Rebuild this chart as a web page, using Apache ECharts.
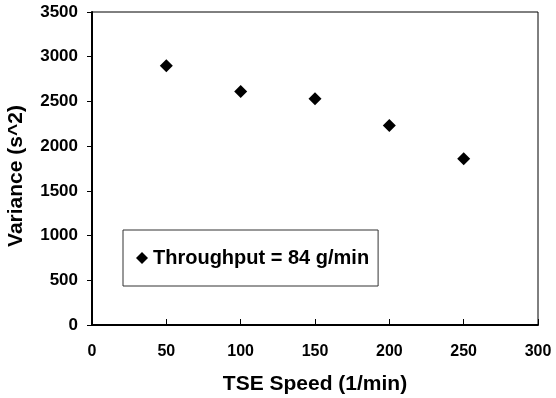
<!DOCTYPE html>
<html>
<head>
<meta charset="utf-8">
<script src="https://cdn.jsdelivr.net/npm/echarts@6/dist/echarts.min.js"></script>
<style>
  html, body { margin: 0; padding: 0; background: #fff; }
  #chart { width: 556px; height: 398px; }
</style>
</head>
<body>
<div id="chart"></div>
<script>
// data
var speeds = [50, 100, 150, 200, 250];
var variances = [2900, 2610, 2530, 2230, 1860];
var seriesName = 'Throughput = 84 g/min';

var points = speeds.map(function (s, i) { return [s, variances[i]]; });

var myChart = echarts.init(document.getElementById('chart'));
var font = 'Liberation Sans, Arial, sans-serif';

var option = {
  animation: false,
  textStyle: { fontFamily: font },
  grid: {
    left: 92, right: 18, top: 12, bottom: 73,
    outerBoundsMode: 'none',
    show: true, borderColor: '#000', borderWidth: 1
  },
  legend: {
    data: [{ name: seriesName, icon: 'diamond' }],
    left: 123, top: 230,
    orient: 'vertical',
    padding: [18, 9, 18, 13],
    itemWidth: 12, itemHeight: 12, itemGap: 0,
    borderColor: '#333', borderWidth: 1,
    backgroundColor: '#fff',
    textStyle: { fontSize: 20, fontWeight: 'bold', color: '#000', fontFamily: font }
  },
  xAxis: {
    type: 'value',
    min: 0, max: 300, interval: 50,
    name: 'TSE Speed (1/min)',
    nameLocation: 'middle', nameGap: 49,
    nameTextStyle: { fontSize: 21, fontWeight: 'bold', color: '#000' },
    axisLine: { show: true, lineStyle: { color: '#000', width: 2 } },
    axisTick: { show: true, inside: true, length: 6, lineStyle: { color: '#000' } },
    axisLabel: { fontSize: 16, fontWeight: 'bold', color: '#000', margin: 19 },
    splitLine: { show: false }
  },
  yAxis: {
    type: 'value',
    min: 0, max: 3500, interval: 500,
    name: 'Variance (s^2)',
    nameLocation: 'middle', nameGap: 65,
    nameTextStyle: { fontSize: 21, fontWeight: 'bold', color: '#000', padding: [0, 15, 0, 0] },
    axisLine: { show: true, lineStyle: { color: '#000', width: 2 } },
    axisTick: { show: true, inside: false, length: 5, lineStyle: { color: '#000' } },
    axisLabel: {
      fontSize: 17, fontWeight: 'bold', color: '#000', margin: 14,
      formatter: function (v) { return String(v); }
    },
    splitLine: { show: false }
  },
  series: [
    {
      name: seriesName,
      type: 'scatter',
      symbol: 'diamond',
      symbolSize: 13,
      itemStyle: { color: '#000', opacity: 1 },
      data: points
    }
  ]
};

myChart.setOption(option);
</script>
</body>
</html>
